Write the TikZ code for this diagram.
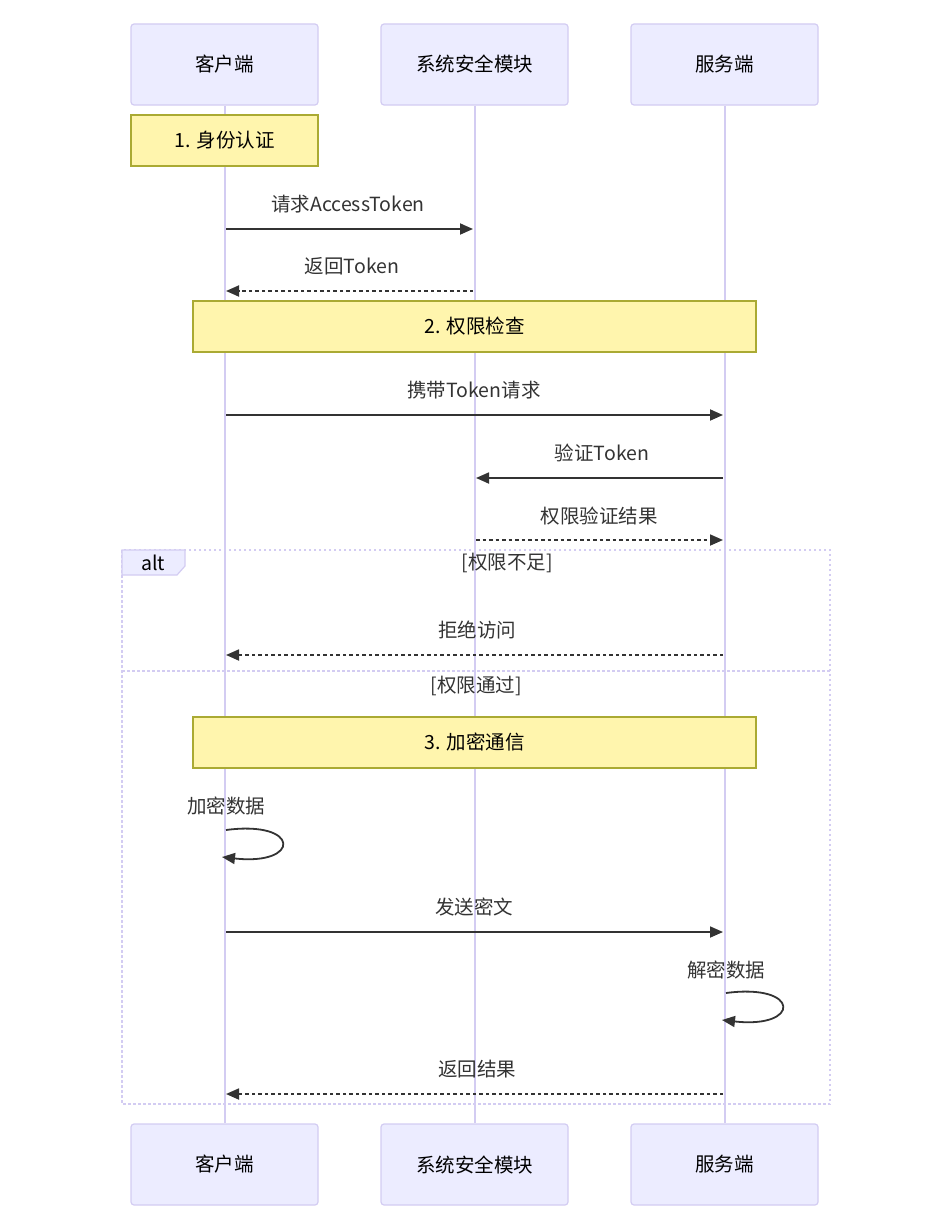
\documentclass[tikz,border=0pt]{standalone}
\usepackage{fontspec}
\newfontfamily\cjk{Noto Sans CJK SC}
\usetikzlibrary{arrows.meta}
\definecolor{actfill}{HTML}{ECECFF}
\definecolor{actline}{HTML}{D3CCF2}
\definecolor{notefill}{HTML}{FFF5AD}
\definecolor{noteline}{HTML}{AAAA33}
\definecolor{msgcol}{HTML}{333333}
\tikzset{
  actor/.style={draw=actline, fill=actfill, line width=1.2pt, rounded corners=3pt,
    minimum width=187pt, minimum height=81pt, inner sep=0pt, font=\cjk\fontsize{19.5pt}{22pt}\selectfont, text=black},
  notebox/.style={draw=noteline, fill=notefill, line width=1.2pt, minimum height=51pt, inner sep=0pt,
    font=\cjk\fontsize{19.5pt}{22pt}\selectfont, text=black},
  lifeline/.style={draw=actline, line width=2pt},
  msg/.style={draw=msgcol, line width=1.8pt, -{Triangle[length=13pt,width=11pt]}},
  reply/.style={msg, dash pattern=on 3.5pt off 3pt},
  lbl/.style={font=\cjk\fontsize{19.5pt}{22pt}\selectfont, text=msgcol, inner sep=0pt},
  altline/.style={draw=actline, line width=2.2pt, dash pattern=on 2.5pt off 2.5pt},
}
\newcommand{\actlabel}[1]{\raisebox{-2pt}{#1}}
\begin{document}
\begin{tikzpicture}[x=1pt, y=-1pt]
\useasboundingbox (0,0) rectangle (924,1215);
% actors
\node[actor] (c1) at (224.5,64.5) {\actlabel{客户端}};
\node[actor] (s1) at (474.5,64.5) {\actlabel{系统安全模块}};
\node[actor] (v1) at (724.5,64.5) {\actlabel{服务端}};
\node[actor] (c2) at (224.5,1164.5) {\actlabel{客户端}};
\node[actor] (s2) at (474.5,1164.5) {\actlabel{系统安全模块}};
\node[actor] (v2) at (724.5,1164.5) {\actlabel{服务端}};
\draw[lifeline] (c1.south) -- (c2.north);
\draw[lifeline] (s1.south) -- (s2.north);
\draw[lifeline] (v1.south) -- (v2.north);
% alt frame
\draw[altline] (122,550) rectangle (830,1104);
\draw[altline] (122,671) -- (830,671);
\path[fill=actfill, draw=actline, line width=1.2pt] (122,550) -- (185,550) -- (185,566) -- (177,575) -- (122,575) -- cycle;
\node[lbl, text=black] (alt) at (153,563) {alt};
\node[lbl] (g1) at (507,563) {[权限不足]};
\node[lbl] (g2) at (476,686) {[权限通过]};
% notes
\node[notebox, minimum width=187pt] (n1) at (224.5,140.5) {1. 身份认证};
\node[notebox, minimum width=563pt] (n2) at (474.5,326.5) {2. 权限检查};
\node[notebox, minimum width=563pt] (n3) at (474.5,742.5) {3. 加密通信};
% message coordinates
\coordinate (m1a) at (226,229); \coordinate (m1b) at (473,229);
\coordinate (m2a) at (473,291); \coordinate (m2b) at (226,291);
\coordinate (m3a) at (226,415); \coordinate (m3b) at (723,415);
\coordinate (m4a) at (723,478); \coordinate (m4b) at (476,478);
\coordinate (m5a) at (476,540); \coordinate (m5b) at (723,540);
\coordinate (m6a) at (723,655); \coordinate (m6b) at (226,655);
\coordinate (l1a) at (226,830); \coordinate (l1b) at (222,857);
\coordinate (m7a) at (226,932); \coordinate (m7b) at (723,932);
\coordinate (l2a) at (726,993); \coordinate (l2b) at (722,1020);
\coordinate (m8a) at (723,1094); \coordinate (m8b) at (226,1094);
% messages
\node[lbl] (t1) at (348,204) {请求AccessToken};
\draw[msg] (m1a) -- (m1b);
\node[lbl] (t2) at (352,266) {返回Token};
\draw[reply] (m2a) -- (m2b);
\node[lbl] (t3) at (474,390) {携带Token请求};
\draw[msg] (m3a) -- (m3b);
\node[lbl] (t4) at (602,453) {验证Token};
\draw[msg] (m4a) -- (m4b);
\node[lbl] (t5) at (599,516) {权限验证结果};
\draw[reply] (m5a) -- (m5b);
\node[lbl] (t6) at (477,630) {拒绝访问};
\draw[reply] (m6a) -- (m6b);
\node[lbl] (t7) at (226,806) {加密数据};
\draw[msg] (l1a) .. controls (301,820) and (301,866) .. (l1b);
\node[lbl] (t8) at (474,907) {发送密文};
\draw[msg] (m7a) -- (m7b);
\node[lbl] (t9) at (726,970) {解密数据};
\draw[msg] (l2a) .. controls (801,983) and (801,1029) .. (l2b);
\node[lbl] (t10) at (477,1069) {返回结果};
\draw[reply] (m8a) -- (m8b);
\end{tikzpicture}
\end{document}
